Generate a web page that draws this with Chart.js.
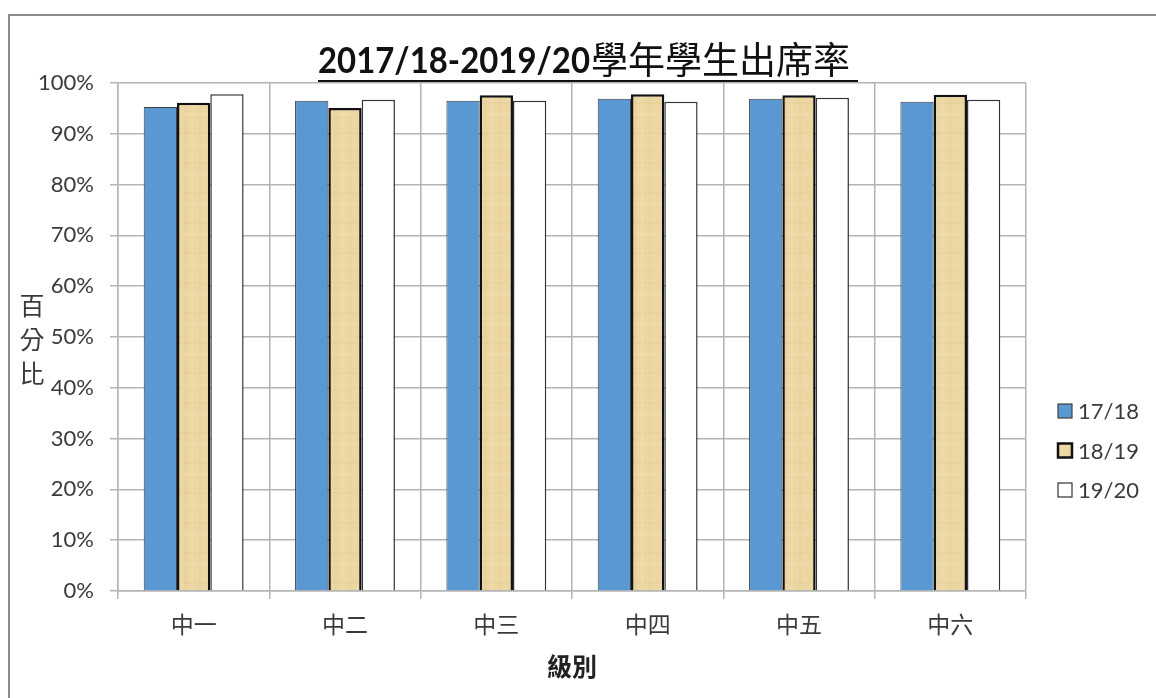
<!DOCTYPE html>
<html>
<head>
<meta charset="utf-8">
<script src="https://cdn.jsdelivr.net/npm/chart.js@4"></script>
<style>
  html, body { margin: 0; padding: 0; background: #fff; }
  #wrap { position: relative; width: 1156px; height: 698px; }
  #frame { position: absolute; left: 8px; top: 14px; right: 0; bottom: 0;
           border-left: 2px solid #8c8c8c; border-top: 2px solid #8c8c8c; pointer-events: none; }
</style>
</head>
<body>
<div id="wrap">
  <canvas id="attendChart" width="1156" height="698"></canvas>
  <div id="frame"></div>
</div>
<script>
const categories = ['中一', '中二', '中三', '中四', '中五', '中六'];
const seriesNames = ['17/18', '18/19', '19/20'];
const rate1718 = [95.3, 96.5, 96.5, 96.9, 96.9, 96.3];
const rate1819 = [96.1, 95.1, 97.6, 97.8, 97.6, 97.7];
const rate1920 = [97.8, 96.7, 96.5, 96.3, 97.1, 96.7];
const titleLatin = '2017/18-2019/20';
const titleCjk = '學年學生出席率';
const yTitle = ['百', '分', '比'];
const xTitle = '級別';

const gridColor = '#b4b4b4';
const textColor = '#3a3a3a';
const latinFont = 'Lato, "Noto Sans CJK TC", sans-serif';
const cjkFont = '"Noto Sans CJK TC", sans-serif';

// papyrus-like tan fill for the 18/19 bars (kept faint)
function tanPattern() {
    const c = document.createElement('canvas');
    c.width = 30; c.height = 30;
    const g = c.getContext('2d');
    g.fillStyle = '#ecd6a1';
    g.fillRect(0, 0, 30, 30);
    g.fillStyle = 'rgba(200,170,110,0.08)';
    g.fillRect(4, 0, 3, 30);
    g.fillRect(19, 0, 2, 30);
    g.fillRect(0, 12, 30, 2);
    g.fillStyle = 'rgba(255,248,225,0.12)';
    g.fillRect(11, 0, 3, 30);
    g.fillRect(0, 23, 30, 3);
    return g.createPattern(c, 'repeat');
}

const ctx = document.getElementById('attendChart').getContext('2d');

const fills = ['#5a98d4', tanPattern(), '#ffffff'];
const borders = ['#404040', '#111111', '#333333'];
const borderWidths = [1, 2.5, 1.5];
const values = [rate1718, rate1819, rate1920];

// title, y title and legend drawn on the canvas
const extrasPlugin = {
    id: 'extras',
    afterDraw(chart) {
        const c = chart.ctx;
        const area = chart.chartArea;
        c.save();
        // title
        c.fillStyle = '#111';
        c.textBaseline = 'alphabetic';
        c.textAlign = 'left';
        const tx = 318, ty = 73;
        c.font = 'bold 37px ' + latinFont;
        c.fillText(titleLatin, tx, ty, 272);
        c.font = '37px ' + cjkFont;
        c.fillText(titleCjk, tx + 273, ty + 1, 267);
        c.fillRect(tx, 80, 540, 2);

        // y axis title, stacked characters
        c.fillStyle = textColor;
        c.font = '25px ' + cjkFont;
        c.textAlign = 'center';
        c.textBaseline = 'middle';
        const mid = (area.top + area.bottom) / 2;
        yTitle.forEach((ch, i) => c.fillText(ch, 32, mid - 32 + i * 34));

        // legend
        c.textAlign = 'left';
        c.font = '22px ' + latinFont;
        chart.data.datasets.forEach((ds, i) => {
            const y = 411 + i * 39.5;
            c.fillStyle = ds.backgroundColor;
            c.fillRect(1058, y - 7, 14, 14);
            c.lineWidth = i === 1 ? 2.5 : 1.2;
            c.strokeStyle = ds.borderColor;
            c.strokeRect(1058, y - 7, 14, 14);
            c.fillStyle = textColor;
            c.fillText(ds.label, 1078, y + 1);
        });
        c.restore();
    }
};

new Chart(ctx, {
    type: 'bar',
    data: {
        labels: categories,
        datasets: seriesNames.map((name, i) => ({
            label: name,
            data: values[i],
            backgroundColor: fills[i],
            borderColor: borders[i],
            borderWidth: borderWidths[i],
            barPercentage: 1,
            categoryPercentage: 0.66
        }))
    },
    options: {
        responsive: false,
        animation: false,
        events: [],
        layout: { padding: { top: 83, right: 130, bottom: 0, left: 0 } },
        plugins: {
            legend: { display: false },
            title: { display: false },
            tooltip: { enabled: false }
        },
        scales: {
            x: {
                grid: { color: gridColor, lineWidth: 1.5, tickLength: 8, offset: true },
                border: { color: gridColor, width: 1.5 },
                ticks: {
                    color: textColor,
                    font: { family: cjkFont, size: 23 },
                    padding: 11
                },
                title: {
                    display: true,
                    text: xTitle,
                    color: '#222',
                    font: { family: cjkFont, size: 25, weight: 'bold' },
                    padding: { top: 0, bottom: 17 }
                },
                afterFit(scale) { scale.height = 107; }
            },
            y: {
                min: 0,
                max: 100,
                grid: { color: gridColor, lineWidth: 1.5, tickLength: 8 },
                border: { color: gridColor, width: 1.5 },
                ticks: {
                    stepSize: 10,
                    color: textColor,
                    font: { family: latinFont, size: 22 },
                    padding: 16,
                    callback: v => v + '%'
                },
                afterFit(scale) { scale.width = 118; }
            }
        }
    },
    plugins: [extrasPlugin]
});
</script>
</body>
</html>
